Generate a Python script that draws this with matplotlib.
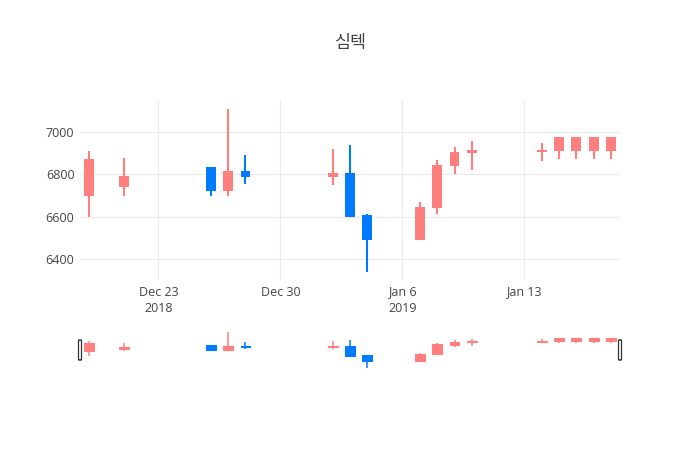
import numpy as np
import matplotlib
matplotlib.use('Agg')
import matplotlib.pyplot as plt
import matplotlib.dates as mdates
from matplotlib.patches import FancyBboxPatch

# data
dates = ['2018-12-19', '2018-12-21', '2018-12-26', '2018-12-27', '2018-12-28',
         '2019-01-02', '2019-01-03', '2019-01-04', '2019-01-07', '2019-01-08',
         '2019-01-09', '2019-01-10', '2019-01-14', '2019-01-15', '2019-01-16',
         '2019-01-17', '2019-01-18']
opens = [6700, 6740, 6835, 6720, 6815, 6790, 6805, 6610, 6490, 6640,
         6840, 6900, 6905, 6910, 6910, 6910, 6910]
highs = [6910, 6880, 6835, 7110, 6890, 6920, 6940, 6612, 6670, 6870,
         6930, 6960, 6950, 6975, 6975, 6975, 6975]
lows = [6600, 6700, 6700, 6700, 6755, 6750, 6600, 6340, 6490, 6615,
        6800, 6820, 6865, 6875, 6875, 6875, 6875]
closes = [6875, 6795, 6720, 6815, 6790, 6806, 6600, 6490, 6645, 6845,
          6905, 6915, 6915, 6975, 6975, 6975, 6975]
yticks = [6400, 6600, 6800, 7000]
xtick_dates = ['2018-12-23', '2018-12-30', '2019-01-06', '2019-01-13']
xtick_labels = ['Dec 23\n2018', 'Dec 30', 'Jan 6\n2019', 'Jan 13']
title = '심텍'

UP = '#ff7f7f'
DOWN = '#007bff'
GRID = '#ebebeb'
TXT = '#444444'

plt.rcParams['font.family'] = ['Open Sans', 'Noto Sans CJK KR', 'DejaVu Sans']

x = mdates.date2num(np.array(dates, dtype='datetime64[D]'))
xt = mdates.date2num(np.array(xtick_dates, dtype='datetime64[D]'))


def candles(ax, lw, blw, w=0.57):
    for xi, o, h, l, c in zip(x, opens, highs, lows, closes):
        col = UP if c >= o else DOWN
        ax.vlines(xi, l, h, color=col, lw=lw, zorder=2)
        ax.bar(xi, max(abs(c - o), 4), bottom=min(o, c), width=w, color=col,
               edgecolor=col, lw=blw, zorder=3)


fig = plt.figure(figsize=(7, 4.5), dpi=100)
ax = fig.add_axes([80/700, 1-280/450, 540/700, 180/450])
sl = fig.add_axes([80/700, 1-370/450, 540/700, 40/450])

xmin, xmax = x[0] - 0.5, x[-1] + 0.5
ylo, yhi = 6301, 7152

candles(ax, 1.5, 0)
ax.set_xlim(xmin, xmax)
ax.set_ylim(ylo, yhi)
ax.set_yticks(yticks)
ax.set_yticklabels([str(v) for v in yticks])
ax.set_xticks(xt)
ax.set_xticklabels(xtick_labels, linespacing=1.35)
ax.grid(True, color=GRID, lw=0.8, zorder=0)
ax.set_axisbelow(True)
ax.tick_params(length=0, labelsize=9, labelcolor=TXT, pad=4)
for s in ax.spines.values():
    s.set_visible(False)

# range slider
candles(sl, 1.1, 0.8)
sl.set_xlim(xmin, xmax)
sl.set_ylim(ylo, yhi)
sl.set_xticks([])
sl.set_yticks([])
for s in sl.spines.values():
    s.set_visible(False)
for hx in (0, 1):
    sl.add_patch(FancyBboxPatch((hx - 1.5/540, 0.25), 3/540, 0.5,
                                boxstyle='round,pad=0,rounding_size=0.003',
                                transform=sl.transAxes, clip_on=False,
                                facecolor='white', edgecolor='#333333',
                                lw=0.9, zorder=5))

fig.text(0.5, 1-43/450, title, ha='center', va='center', fontsize=12.5,
         color=TXT, family=['Noto Sans CJK KR', 'DejaVu Sans'])

fig.savefig('out.png', dpi=100)
